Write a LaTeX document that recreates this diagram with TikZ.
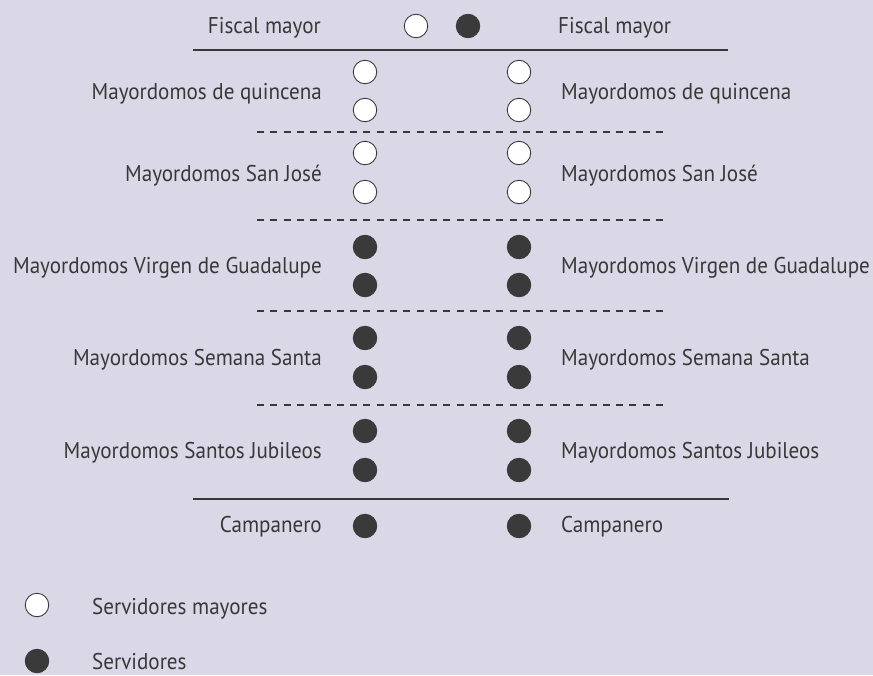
\documentclass[tikz,border=0pt]{standalone}
\usepackage{fontspec}
\setmainfont[FakeStretch=0.925]{PT Sans}
\begin{document}
\begin{tikzpicture}[x=1pt,y=-1pt,
  lbl/.style={font=\fontsize{22.8}{26}\selectfont, text=txtc, inner sep=0pt},
  lft/.style={lbl, anchor=base east},
  rgt/.style={lbl, anchor=base west},
  wdot/.style={circle, draw=dotc, line width=0.9pt, fill=white, minimum size=23.5pt, inner sep=0pt},
  bdot/.style={circle, draw=dotc, line width=0.9pt, fill=dotc, minimum size=23.5pt, inner sep=0pt},
  solidsep/.style={draw=txtc, line width=1.5pt},
  dashsep/.style={draw=txtc, line width=1.5pt, dash pattern=on 7pt off 6.3pt},
]
\definecolor{bgc}{HTML}{DAD8E7}
\definecolor{txtc}{HTML}{383838}
\definecolor{dotc}{HTML}{3A3A3A}
\fill[bgc] (0,0) rectangle (873,675);
\useasboundingbox (0,0) rectangle (873,675);
% top row
\node[lft] (fl) at (321,33) {Fiscal mayor};
\node[rgt] (fr) at (558,33) {Fiscal mayor};
\node[wdot] (fw) at (416,26) {};
\node[bdot] (fb) at (468,26) {};
\coordinate (s1a) at (193,50); \coordinate (s1b) at (728,50);
\draw[solidsep] (s1a) -- (s1b);
% groups: name, baseline, text, dot style, upper dot y, lower dot y
\newcommand{\grp}[6]{%
  \node[lft] (#1l) at (322,#2) {#3};
  \node[rgt] (#1r) at (561,#2) {#3};
  \node[#4] (#1a) at (365,#5) {};
  \node[#4] (#1b) at (365,#6) {};
  \node[#4] (#1c) at (519,#5) {};
  \node[#4] (#1d) at (519,#6) {};
}
\grp{q}{99}{Mayordomos de quincena}{wdot}{72}{110}
\grp{j}{181}{Mayordomos San José}{wdot}{153}{192}
\grp{g}{273}{Mayordomos Virgen de Guadalupe}{bdot}{247}{285}
\grp{s}{365}{Mayordomos Semana Santa}{bdot}{338}{377}
\grp{b}{458}{Mayordomos Santos Jubileos}{bdot}{431}{470}
% dashed separators
\coordinate (d1a) at (257,132); \coordinate (d1b) at (666,132);
\coordinate (d2a) at (257,220); \coordinate (d2b) at (666,220);
\coordinate (d3a) at (257,311); \coordinate (d3b) at (666,311);
\coordinate (d4a) at (257,405); \coordinate (d4b) at (666,405);
\draw[dashsep] (d1a) -- (d1b);
\draw[dashsep] (d2a) -- (d2b);
\draw[dashsep] (d3a) -- (d3b);
\draw[dashsep] (d4a) -- (d4b);
\coordinate (s2a) at (193,499); \coordinate (s2b) at (729,499);
\draw[solidsep] (s2a) -- (s2b);
% campanero
\node[lft] (cl) at (322,532) {Campanero};
\node[rgt] (cr) at (561,532) {Campanero};
\node[bdot] (cb1) at (365,526) {};
\node[bdot] (cb2) at (519,526) {};
% legend
\node[wdot] (lw) at (37,605) {};
\node[rgt] (lwt) at (92,614) {Servidores mayores};
\node[bdot] (lb) at (37,661) {};
\node[rgt] (lbt) at (92,669) {Servidores};
\end{tikzpicture}
\end{document}
